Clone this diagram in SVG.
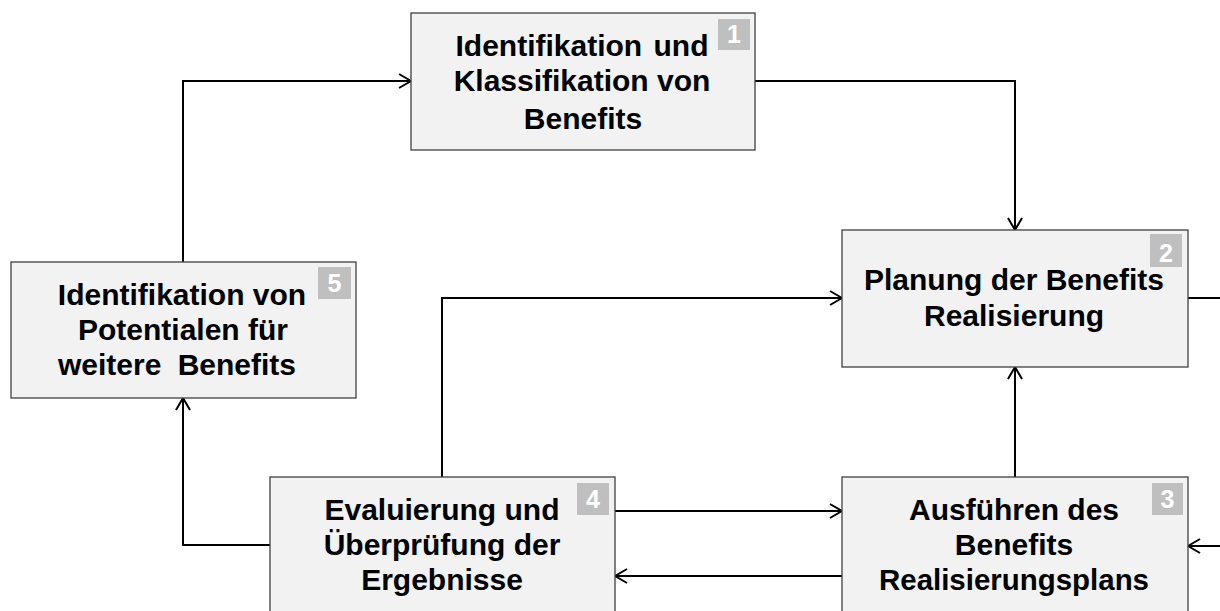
<svg xmlns="http://www.w3.org/2000/svg" width="1220" height="611" viewBox="0 0 1220 611">
  <defs>
    <marker id="arrow" viewBox="0 0 14 16" refX="13" refY="8" markerWidth="14" markerHeight="16" markerUnits="userSpaceOnUse" orient="auto">
      <path d="M1,1 L13,8 L1,15" fill="none" stroke="#000" stroke-width="2"/>
    </marker>
    <style>
      .box { fill: #f2f2f2; stroke: #404040; stroke-width: 1.3; }
      .badge { fill: #bfbfbf; }
      .num { font-family: "Liberation Sans", Arial, sans-serif; font-weight: bold; font-size: 25px; fill: #ffffff; text-anchor: middle; }
      .label { font-family: "Liberation Sans", Arial, sans-serif; font-weight: bold; font-size: 30px; fill: #000; text-anchor: middle; }
      .conn { fill: none; stroke: #000; stroke-width: 2; }
    </style>
  </defs>
  <rect width="1220" height="611" fill="#ffffff"/>

  <!-- connectors -->
  <g id="connectors">
    <path class="conn" d="M183,262 V81 H411" marker-end="url(#arrow)"/>
    <path class="conn" d="M755,81 H1015 V230" marker-end="url(#arrow)"/>
    <path class="conn" d="M442,477 V298 H842" marker-end="url(#arrow)"/>
    <path class="conn" d="M1188,298 H1220"/>
    <path class="conn" d="M1015,477 V367" marker-end="url(#arrow)"/>
    <path class="conn" d="M615,511 H842" marker-end="url(#arrow)"/>
    <path class="conn" d="M842,576 H615" marker-end="url(#arrow)"/>
    <path class="conn" d="M1220,546 H1188" marker-end="url(#arrow)"/>
    <path class="conn" d="M270,545 H183 V398" marker-end="url(#arrow)"/>
  </g>

  <!-- step 1 -->
  <g id="node1">
    <rect class="box" x="411" y="13" width="344" height="137"/>
    <rect class="badge" x="718" y="19" width="32" height="31"/>
    <text class="num" x="734" y="43">1</text>
    <text class="label" x="582" y="56" word-spacing="3">Identifikation und</text>
    <text class="label" x="582" y="91">Klassifikation von</text>
    <text class="label" x="583" y="129">Benefits</text>
  </g>

  <!-- step 2 -->
  <g id="node2">
    <rect class="box" x="842" y="230" width="346" height="137"/>
    <rect class="badge" x="1150" y="234" width="32" height="33"/>
    <text class="num" x="1166" y="262">2</text>
    <text class="label" x="1014" y="290">Planung der Benefits</text>
    <text class="label" x="1014" y="326">Realisierung</text>
  </g>

  <!-- step 3 -->
  <g id="node3">
    <rect class="box" x="842" y="477" width="346" height="150"/>
    <rect class="badge" x="1152" y="483" width="31" height="32"/>
    <text class="num" x="1167.5" y="508">3</text>
    <text class="label" x="1014" y="520">Ausführen des</text>
    <text class="label" x="1014" y="555">Benefits</text>
    <text class="label" x="1014" y="590" textLength="270" lengthAdjust="spacingAndGlyphs">Realisierungsplans</text>
  </g>

  <!-- step 4 -->
  <g id="node4">
    <rect class="box" x="270" y="477" width="345" height="150"/>
    <rect class="badge" x="577" y="483" width="32" height="32"/>
    <text class="num" x="593" y="508">4</text>
    <text class="label" x="442" y="520">Evaluierung und</text>
    <text class="label" x="442" y="555">Überprüfung der</text>
    <text class="label" x="442" y="590">Ergebnisse</text>
  </g>

  <!-- step 5 -->
  <g id="node5">
    <rect class="box" x="11" y="262" width="345" height="136"/>
    <rect class="badge" x="318" y="267" width="33" height="32"/>
    <text class="num" x="334.5" y="292">5</text>
    <text class="label" x="182" y="305">Identifikation von</text>
    <text class="label" x="183" y="340">Potentialen für</text>
    <text class="label" x="177" y="375" word-spacing="8">weitere Benefits</text>
  </g>
</svg>
